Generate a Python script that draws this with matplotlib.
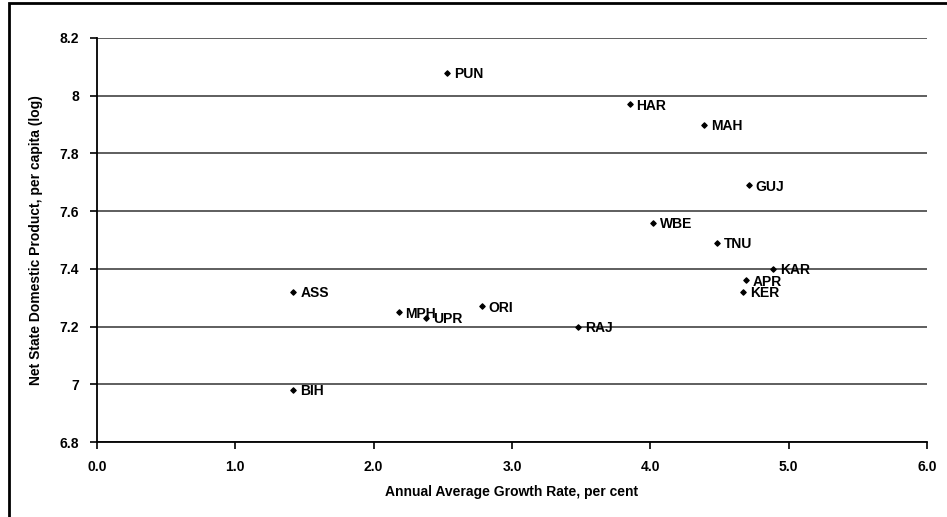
import matplotlib.pyplot as plt
from matplotlib.patches import Rectangle

states = ["PUN", "HAR", "MAH", "GUJ", "WBE", "TNU", "KAR", "APR", "KER",
          "ASS", "MPH", "UPR", "ORI", "RAJ", "BIH"]
growth = [2.53, 3.85, 4.39, 4.71, 4.02, 4.48, 4.89, 4.69, 4.67,
          1.42, 2.18, 2.38, 2.78, 3.48, 1.42]
nsdp_log = [8.08, 7.97, 7.90, 7.69, 7.56, 7.49, 7.40, 7.36, 7.32,
            7.32, 7.25, 7.23, 7.27, 7.20, 6.98]

yticks = [6.8, 7.0, 7.2, 7.4, 7.6, 7.8, 8.0, 8.2]
ytick_labels = ["6.8", "7", "7.2", "7.4", "7.6", "7.8", "8", "8.2"]
xticks = [0, 1, 2, 3, 4, 5, 6]
xtick_labels = ["0.0", "1.0", "2.0", "3.0", "4.0", "5.0", "6.0"]

plt.rcParams["font.family"] = ["Liberation Sans", "DejaVu Sans"]
plt.rcParams["font.weight"] = "bold"

fig = plt.figure(figsize=(9.47, 5.17), dpi=100)
ax = fig.add_axes([0.1024, 0.145, 0.8765, 0.7815])

# figure border
fig.patches.append(Rectangle((0.009, -0.01), 1.2, 1.004, transform=fig.transFigure,
                             fill=False, edgecolor="black", linewidth=2))

ax.scatter(growth, nsdp_log, marker="D", s=7, color="black", zorder=3)
for name, x, y in zip(states, growth, nsdp_log):
    ax.annotate(name, (x, y), xytext=(5, -1), textcoords="offset points",
                fontsize=10, fontweight="bold", va="center", ha="left")

ax.set_xlim(0, 6)
ax.set_ylim(6.8, 8.2)
ax.set_xticks(xticks)
ax.set_xticklabels(xtick_labels)
ax.set_yticks(yticks)
ax.set_yticklabels(ytick_labels)
ax.tick_params(direction="out", length=5, width=1.2, labelsize=10, pad=8)
ax.yaxis.grid(True, color="#333333", linewidth=1.1)
ax.set_axisbelow(True)
for side in ["top", "right"]:
    ax.spines[side].set_visible(False)
for side in ["left", "bottom"]:
    ax.spines[side].set_linewidth(1.3)

ax.set_xlabel("Annual Average Growth Rate, per cent", fontsize=10,
              fontweight="bold", labelpad=8)
ax.set_ylabel("Net State Domestic Product, per capita (log)", fontsize=10,
              fontweight="bold", labelpad=12)

fig.savefig("out.png", dpi=100)
